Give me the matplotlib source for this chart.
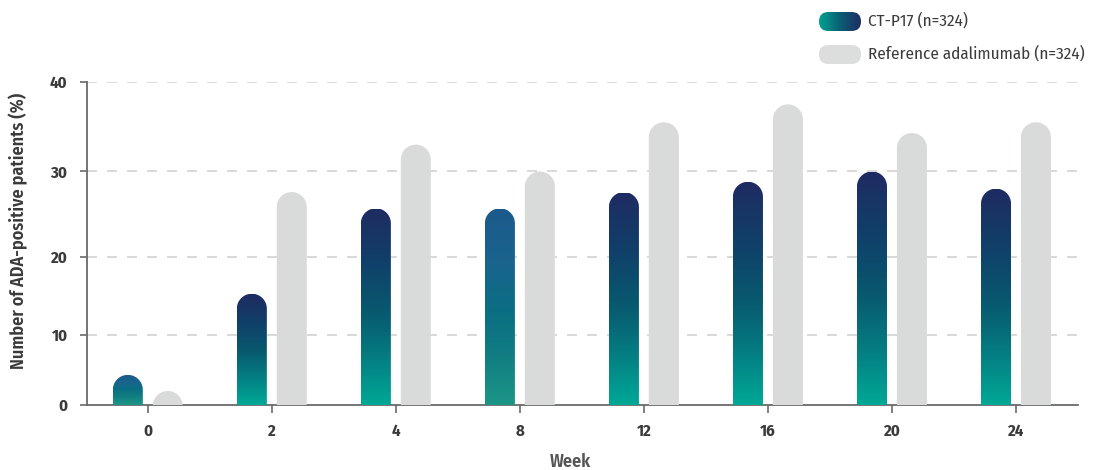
import matplotlib
matplotlib.use("Agg")
import matplotlib.pyplot as plt
import numpy as np
from matplotlib import font_manager
from matplotlib.path import Path
from matplotlib.patches import PathPatch, FancyBboxPatch
from matplotlib.colors import LinearSegmentedColormap

weeks = ["0", "2", "4", "8", "12", "16", "20", "24"]
ctp17 = [4.3, 15.3, 25.7, 25.7, 27.6, 28.8, 30.0, 28.0]
reference = [2.0, 27.6, 33.0, 30.0, 35.5, 37.5, 34.3, 35.5]
y_ticks = [0, 10, 20, 30, 40]

# the value axis has uneven spacing between its gridlines
tick_gap = [0, 70, 147.7, 233.3, 322.7]
muted = {0, 3}   # groups drawn with the lighter blue gradient

installed = {f.name for f in font_manager.fontManager.ttflist}
narrow = [n for n in ["Fira Sans Condensed", "PT Sans Narrow", "Roboto Condensed",
                      "Liberation Sans Narrow"] if n in installed]
plt.rcParams["font.family"] = narrow[:1] + ["DejaVu Sans"]


def fwd(v):
    v = np.asarray(v, dtype=float)
    out = np.interp(v, y_ticks, tick_gap)
    out = np.where(v < 0, v * 7.0, out)
    out = np.where(v > 40, tick_gap[-1] + (v - 40) * 8.94, out)
    return out


def inv(p):
    p = np.asarray(p, dtype=float)
    out = np.interp(p, tick_gap, y_ticks)
    out = np.where(p < 0, p / 7.0, out)
    out = np.where(p > tick_gap[-1], 40 + (p - tick_gap[-1]) / 8.94, out)
    return out


W, H = 1093, 470
fig = plt.figure(figsize=(W / 100, H / 100), dpi=100)
ax = fig.add_axes([87 / W, 1 - 405 / H, (1078 - 87) / W, (405 - 82) / H])
ax.set_yscale("function", functions=(fwd, inv))
ax.set_xlim(-0.49, 7.5)
ax.set_ylim(0, 40)
ax.set_autoscale_on(False)

main_cmap = LinearSegmentedColormap.from_list(
    "ctp", ["#00a896", "#047f83", "#08596f", "#10406a", "#1f2b62"])
soft_cmap = LinearSegmentedColormap.from_list(
    "ctp_soft", ["#1b9686", "#127f83", "#0a6f82", "#19648e", "#1c5a8b"])


def rounded_bar(xc, width, top):
    # bar outline with a half-round cap, built in pixels then mapped back to data
    x0, y0 = ax.transData.transform((xc - width / 2, 0))
    x1, yt = ax.transData.transform((xc + width / 2, top))
    r = (x1 - x0) / 2
    cx, cy = (x0 + x1) / 2, yt - r
    base = min(y0, cy)
    ang = np.linspace(0, np.pi, 60)
    pts = [(x1, base)] + list(zip(cx + r * np.cos(ang), cy + r * np.sin(ang))) + [(x0, base), (x1, base)]
    pts = ax.transData.inverted().transform(np.array(pts))
    codes = [Path.MOVETO] + [Path.LINETO] * (len(pts) - 2) + [Path.CLOSEPOLY]
    return Path(pts, codes)


x = np.arange(len(weeks))
bw = 0.242
off = 0.161
grad = np.linspace(0, 1, 256).reshape(-1, 1)

for i in range(len(weeks)):
    # CT-P17: gradient clipped to the bar outline
    path = rounded_bar(x[i] - off, bw, ctp17[i])
    clip = PathPatch(path, transform=ax.transData, facecolor="none", edgecolor="none")
    ax.add_patch(clip)
    cmap = soft_cmap if i in muted else main_cmap
    im = ax.imshow(grad, extent=[x[i] - off - bw / 2, x[i] - off + bw / 2, 0, ctp17[i]],
                   origin="lower", cmap=cmap, aspect="auto", zorder=3,
                   interpolation="bilinear")
    im.set_clip_path(clip)

    # reference adalimumab
    path = rounded_bar(x[i] + off, bw, reference[i])
    ax.add_patch(PathPatch(path, transform=ax.transData, facecolor="#d9dbdb",
                           edgecolor="none", zorder=3))

ax.set_xlim(-0.49, 7.5)
ax.set_ylim(0, 40)

ax.set_xticks(x)
ax.set_xticklabels(weeks)
ax.set_yticks(y_ticks)
for t in y_ticks[1:]:
    ax.axhline(t, color="#d3d3d3", lw=1.2, ls=(0, (6, 6)), zorder=1)

for s in ["top", "right"]:
    ax.spines[s].set_visible(False)
ax.spines["left"].set_color("#6a6a6a")
ax.spines["bottom"].set_color("#6a6a6a")
ax.spines["left"].set_linewidth(1.3)
ax.spines["bottom"].set_linewidth(1.3)
ax.tick_params(axis="y", length=5, width=1.2, color="#6a6a6a", pad=9)
ax.tick_params(axis="x", length=6, width=1.2, color="#6a6a6a", pad=7)
for lab in ax.get_xticklabels() + ax.get_yticklabels():
    lab.set_fontsize(12)
    lab.set_fontweight("bold")
    lab.set_color("#3a3a3a")

fig.text(18 / W, 1 - 231 / H, "Number of ADA-positive patients (%)", rotation=90,
         ha="center", va="center", fontsize=13, fontweight="semibold", color="#3a3a3a")
fig.text(570 / W, 1 - 462 / H, "Week", ha="center", va="center",
         fontsize=13, fontweight="semibold", color="#555555")

# legend swatches
sw = fig.add_axes([819 / W, 1 - 31 / H, 42 / W, 19 / H])
sw.set_xlim(0, 42)
sw.set_ylim(0, 19)
sw.axis("off")
pill = FancyBboxPatch((0, 0), 42, 19, boxstyle="round,pad=0,rounding_size=9.4",
                      facecolor="none", edgecolor="none")
sw.add_patch(pill)
hgrad = np.linspace(0, 1, 256).reshape(1, -1)
leg_cmap = LinearSegmentedColormap.from_list("leg", ["#00a391", "#0a5f74", "#1f2b62"])
img = sw.imshow(hgrad, extent=[0, 42, 0, 19], cmap=leg_cmap, aspect="auto")
img.set_clip_path(pill)

sw2 = fig.add_axes([819 / W, 1 - 64 / H, 42 / W, 19 / H])
sw2.set_xlim(0, 42)
sw2.set_ylim(0, 19)
sw2.axis("off")
sw2.add_patch(FancyBboxPatch((0, 0), 42, 19, boxstyle="round,pad=0,rounding_size=9.4",
                             facecolor="#dcdede", edgecolor="none"))

fig.text(868 / W, 1 - 21 / H, "CT-P17 (n=324)", va="center", fontsize=12.3, color="#3c3c3c")
fig.text(868 / W, 1 - 54 / H, "Reference adalimumab (n=324)", va="center",
         fontsize=12.3, color="#3c3c3c")

fig.savefig("out.png", dpi=100)
